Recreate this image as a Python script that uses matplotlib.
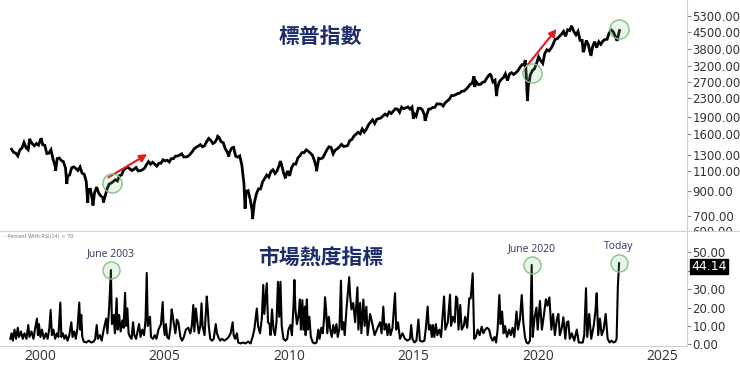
import matplotlib
matplotlib.use("Agg")
import matplotlib.pyplot as plt
import matplotlib.transforms as mtransforms
from matplotlib.lines import Line2D
from matplotlib.patches import Rectangle
import numpy as np

# S&P 500 month-end closes, Jun 1999 .. Nov 2023
spx_start = 1999.5
spx_monthly = [
    1373, 1329, 1320, 1283, 1363, 1389, 1469,
    1394, 1366, 1499, 1452, 1421, 1455, 1431, 1518, 1437, 1429, 1315, 1320,
    1366, 1240, 1160, 1249, 1256, 1224, 1211, 1134, 1041, 1060, 1139, 1148,
    1130, 1107, 1147, 1077, 1067, 990, 912, 916, 815, 886, 936, 880,
    856, 841, 848, 917, 964, 975, 990, 1008, 996, 1051, 1058, 1112,
    1131, 1145, 1126, 1107, 1121, 1141, 1102, 1104, 1115, 1130, 1174, 1212,
    1181, 1204, 1181, 1157, 1192, 1191, 1234, 1220, 1229, 1207, 1249, 1248,
    1280, 1281, 1295, 1311, 1270, 1270, 1277, 1304, 1336, 1378, 1401, 1418,
    1438, 1407, 1421, 1482, 1531, 1503, 1455, 1474, 1527, 1549, 1481, 1468,
    1379, 1331, 1323, 1386, 1400, 1280, 1267, 1283, 1166, 969, 896, 903,
    826, 735, 798, 873, 919, 919, 987, 1021, 1057, 1036, 1096, 1115,
    1074, 1104, 1169, 1187, 1089, 1031, 1102, 1049, 1141, 1183, 1181, 1258,
    1286, 1327, 1326, 1364, 1345, 1321, 1292, 1219, 1131, 1253, 1247, 1258,
    1312, 1366, 1408, 1398, 1310, 1362, 1379, 1407, 1441, 1412, 1416, 1426,
    1498, 1515, 1569, 1598, 1631, 1606, 1686, 1633, 1682, 1757, 1806, 1848,
    1783, 1859, 1872, 1884, 1924, 1960, 1931, 2003, 1972, 2018, 2068, 2059,
    1995, 2104, 2068, 2086, 2107, 2063, 2104, 1972, 1920, 2079, 2080, 2044,
    1940, 1932, 2060, 2065, 2097, 2099, 2174, 2171, 2168, 2126, 2199, 2239,
    2279, 2364, 2363, 2384, 2412, 2423, 2470, 2472, 2519, 2575, 2648, 2674,
    2824, 2714, 2641, 2648, 2705, 2718, 2816, 2902, 2914, 2712, 2760, 2507,
    2704, 2784, 2834, 2946, 2752, 2942, 2980, 2926, 2977, 3038, 3141, 3231,
    3226, 2954, 2585, 2912, 3044, 3100, 3271, 3500, 3363, 3270, 3622, 3756,
    3714, 3811, 3973, 4181, 4204, 4298, 4395, 4523, 4308, 4605, 4567, 4766,
    4516, 4374, 4530, 4132, 4132, 3785, 4130, 3955, 3586, 3872, 4080, 3840,
    4077, 3970, 4109, 4169, 4180, 4450, 4589, 4508, 4288, 4194, 4568,
]
# intra-month highs / lows visible in the chart
spx_extra_t = [2000.23, 2000.70, 2001.27, 2001.72, 2002.56, 2002.77, 2003.19,
               2007.78, 2008.22, 2008.88, 2009.18, 2010.30, 2010.50, 2011.75,
               2015.64, 2016.11, 2018.07, 2018.10, 2018.72, 2018.98, 2020.13,
               2020.22, 2022.00, 2022.46, 2022.78, 2023.82]
spx_extra_v = [1527, 1520, 1103, 966, 797, 777, 801,
               1565, 1276, 752, 677, 1217, 1022, 1099,
               1867, 1829, 2873, 2581, 2931, 2351, 3386,
               2237, 4797, 3667, 3577, 4117]

# percent of stocks with RSI(14) > 70
rsi_t = [
    1999.45, 1999.50, 1999.55, 1999.62, 1999.68, 1999.75, 1999.80, 1999.88, 1999.95,
    2000.02, 2000.10, 2000.17, 2000.22, 2000.30, 2000.38, 2000.45, 2000.52, 2000.56,
    2000.60, 2000.66, 2000.72, 2000.80, 2000.88, 2000.95,
    2001.02, 2001.07, 2001.12, 2001.18, 2001.25, 2001.32, 2001.38, 2001.46, 2001.50,
    2001.56, 2001.62, 2001.68, 2001.75, 2001.82, 2001.90, 2001.95,
    2002.02, 2002.08, 2002.15, 2002.22, 2002.26, 2002.30, 2002.34, 2002.40, 2002.50,
    2002.60, 2002.70, 2002.80, 2002.86, 2002.92, 2002.97,
    2003.05, 2003.12, 2003.20, 2003.30, 2003.35, 2003.42, 2003.49, 2003.53, 2003.60,
    2003.65, 2003.72, 2003.76, 2003.82, 2003.88, 2003.95,
    2004.00, 2004.06, 2004.10, 2004.15, 2004.20, 2004.26, 2004.32, 2004.38, 2004.43,
    2004.50, 2004.56, 2004.62, 2004.68, 2004.75, 2004.82, 2004.88, 2004.93, 2004.97,
    2005.02, 2005.06, 2005.10, 2005.18, 2005.25, 2005.32, 2005.40, 2005.50, 2005.57,
    2005.60, 2005.65, 2005.70, 2005.75, 2005.82, 2005.88, 2005.93, 2005.98,
    2006.02, 2006.08, 2006.14, 2006.20, 2006.28, 2006.35, 2006.42, 2006.50, 2006.60,
    2006.68, 2006.74, 2006.80, 2006.84, 2006.90, 2006.96,
    2007.02, 2007.08, 2007.13, 2007.17, 2007.25, 2007.34, 2007.38, 2007.42, 2007.48,
    2007.55, 2007.62, 2007.70, 2007.75, 2007.80, 2007.88, 2007.95,
    2008.05, 2008.15, 2008.22, 2008.30, 2008.38, 2008.42, 2008.48, 2008.55, 2008.60,
    2008.70, 2008.80, 2008.90,
    2009.00, 2009.10, 2009.18, 2009.25, 2009.35, 2009.40, 2009.48, 2009.55, 2009.61,
    2009.65, 2009.75, 2009.80, 2009.86, 2009.90, 2009.96,
    2010.02, 2010.08, 2010.14, 2010.20, 2010.25, 2010.30, 2010.35, 2010.42, 2010.50,
    2010.57, 2010.62, 2010.70, 2010.76, 2010.82, 2010.86, 2010.90, 2010.96,
    2011.02, 2011.08, 2011.12, 2011.18, 2011.22, 2011.28, 2011.31, 2011.36, 2011.40,
    2011.46, 2011.52, 2011.60, 2011.68, 2011.75, 2011.82, 2011.87, 2011.94,
    2012.00, 2012.05, 2012.09, 2012.13, 2012.18, 2012.24, 2012.30, 2012.36, 2012.42,
    2012.48, 2012.55, 2012.60, 2012.67, 2012.73, 2012.77, 2012.83, 2012.88, 2012.95,
    2013.06, 2013.10, 2013.15, 2013.22, 2013.30, 2013.39, 2013.43, 2013.50, 2013.55,
    2013.63, 2013.68, 2013.75, 2013.80, 2013.90,
    2014.00, 2014.08, 2014.20, 2014.30, 2014.36, 2014.43, 2014.48, 2014.55, 2014.60,
    2014.66, 2014.72, 2014.80, 2014.90, 2014.95,
    2015.02, 2015.10, 2015.20, 2015.30, 2015.40, 2015.50, 2015.55, 2015.60, 2015.68,
    2015.76, 2015.84, 2015.90,
    2016.00, 2016.08, 2016.14, 2016.21, 2016.26, 2016.32, 2016.38, 2016.42, 2016.48,
    2016.54, 2016.60, 2016.68, 2016.75, 2016.87, 2016.92,
    2017.02, 2017.11, 2017.15, 2017.22, 2017.30, 2017.35, 2017.40, 2017.45, 2017.52,
    2017.58, 2017.66, 2017.72, 2017.80, 2017.88, 2017.94,
    2018.02, 2018.08, 2018.15, 2018.22, 2018.30, 2018.38, 2018.45, 2018.52, 2018.60,
    2018.68, 2018.75, 2018.82, 2018.90, 2018.96,
    2019.02, 2019.09, 2019.14, 2019.20, 2019.26, 2019.32, 2019.40, 2019.48, 2019.55,
    2019.62, 2019.69, 2019.78, 2019.84, 2019.92, 2019.99,
    2020.05, 2020.12, 2020.18, 2020.25, 2020.32, 2020.39, 2020.43, 2020.50, 2020.58,
    2020.63, 2020.72, 2020.80, 2020.88, 2020.96,
    2021.02, 2021.10, 2021.18, 2021.25, 2021.32, 2021.40, 2021.46, 2021.52, 2021.60,
    2021.66, 2021.74, 2021.80, 2021.86, 2021.92,
    2022.00, 2022.10, 2022.20, 2022.28, 2022.36, 2022.44, 2022.50, 2022.57, 2022.62,
    2022.70, 2022.78, 2022.88, 2022.95,
    2023.00, 2023.06, 2023.13, 2023.20, 2023.28, 2023.36, 2023.44, 2023.52, 2023.60,
    2023.68, 2023.75, 2023.80, 2023.85, 2023.90,
]
rsi_v = [
    3, 6, 2, 8, 3, 9, 4, 7, 3,
    6, 3, 10.5, 4, 7, 3, 9, 14, 5,
    11, 4, 8, 3, 6, 3,
    9, 18.7, 5, 8, 3, 6, 4, 22.7, 4,
    6, 3, 5, 2, 5, 12, 4,
    7, 3, 9, 22.7, 8, 16, 4, 1.5, 1,
    2, 1, 1.5, 3, 10.5, 3,
    5, 2, 8, 14, 6, 20, 40.4, 11, 16,
    6, 25, 8, 16, 7, 13,
    9, 28, 10, 19.5, 6, 4, 3, 12, 5,
    3, 7, 11, 4, 8, 5, 13, 38.8, 10,
    13, 15, 4, 3, 5, 3, 8, 11, 23,
    12, 5, 11, 4, 3, 9, 19, 15,
    11, 6, 13.5, 12, 4, 2, 4, 8, 9,
    6, 10, 21.4, 7, 19.5, 12,
    6, 10, 22.3, 10, 5, 26, 19, 10, 3,
    2, 3, 11, 6, 4, 2, 3,
    2, 3, 4, 6, 12, 5, 3, 6, 1,
    0.5, 1, 0.5,
    1.5, 0.5, 4, 8, 19.5, 10, 6, 14, 32.3,
    16.5, 33.2, 12, 11, 5, 19,
    8, 5, 12, 34, 15, 34, 10, 3, 2,
    3, 8, 10.5, 5, 20, 35, 19, 11,
    15, 24.4, 8, 24, 8, 20.5, 5, 24.4, 8,
    15, 4, 1, 0.5, 1, 8, 3, 9,
    6, 14, 25.6, 19, 6, 15, 8, 4, 10.5,
    6, 11, 4, 9, 34.6, 8, 12, 5, 19,
    36.5, 26, 19, 22.5, 12, 31, 8, 22.5, 6,
    24.4, 10, 20.5, 5, 16.5,
    10.5, 5, 9, 12, 6, 20.5, 8, 11, 5,
    11, 5, 9, 27.8, 8,
    12, 3, 6, 3, 2, 3, 10.5, 3, 1,
    2, 13.5, 2,
    1.5, 2, 9, 20.5, 8, 10.5, 4, 10.5, 4,
    11, 5, 8, 4, 26, 8,
    12, 27, 10, 15, 12, 26, 25, 8, 21.4,
    8, 10, 15, 9, 25, 25,
    38.6, 3, 4, 8, 5, 9.6, 6, 8, 9,
    8, 4, 2, 4, 1,
    8, 26.8, 11, 17.8, 6, 10, 4, 8, 5,
    9, 4, 17.8, 8, 14, 26.8,
    12.5, 4, 1, 0.5, 2, 43.2, 4, 14, 20,
    8, 23.6, 8, 16, 24.5,
    21, 25.5, 8, 16.5, 5, 13.5, 16.5, 5, 9,
    14.7, 3, 12, 12.5, 3,
    6, 2, 8, 1, 1, 1, 5, 30.5, 4,
    16.5, 3, 10, 18,
    27.8, 5, 14, 5, 8, 16.5, 3, 1, 2,
    1, 1.5, 3, 31.6, 44.1,
]
rsi_last = 44.14

top_ticks = [600, 700, 900, 1100, 1300, 1600, 1900, 2300, 2700, 3200, 3800, 4500, 5300]
bottom_ticks = [0, 10, 20, 30, 40, 50]
years = [2000, 2005, 2010, 2015, 2020, 2025]

# highlighted spots
top_circles_t = [2003.52, 2020.39, 2023.91]
top_circles_v = [976, 2967, 4640]
arrows = [((2003.39, 1033), (2004.95, 1305)), ((2020.19, 3191), (2021.39, 4640))]
bot_circles_t = [2003.49, 2020.39, 2023.90]
bot_circles_v = [40.4, 43.2, 44.1]
bot_labels = ["June 2003", "June 2020", "Today"]

# merge monthly closes with intra-month extremes
spx_t = spx_start + np.arange(len(spx_monthly)) / 12.0
all_t = np.concatenate([spx_t, spx_extra_t])
all_v = np.concatenate([spx_monthly, spx_extra_v])
order = np.argsort(all_t)
all_t, all_v = all_t[order], all_v[order]

W, H = 740, 365
fig = plt.figure(figsize=(W / 100, H / 100), dpi=100)
ax1 = fig.add_axes([0, 1 - 231 / H, 687 / W, 231 / H])
ax2 = fig.add_axes([0, 1 - 346 / H, 687 / W, 115 / H])

xlim = (1999.036, 2026.627)
navy = "#1b2c6b"
grey = "#cfcfcf"

# top panel
ax1.plot(all_t, all_v, color="black", lw=2.0, solid_joinstyle="miter")
ax1.set_yscale("log")
ax1.set_ylim(615, 6220)
ax1.set_xlim(*xlim)
ax1.set_xticks([])
ax1.yaxis.tick_right()
ax1.set_yticks(top_ticks)
ax1.set_yticklabels(["%.2f" % v for v in top_ticks])
ax1.yaxis.set_minor_locator(matplotlib.ticker.NullLocator())
ax1.tick_params(axis="y", length=3, width=0.8, color="#888888", pad=1,
                labelsize=8.5, labelcolor="#333333")
for s in ["top", "left", "bottom"]:
    ax1.spines[s].set_visible(False)
ax1.spines["right"].set_color(grey)

ax1.text(2011.9, 4300, "標普指數", ha="center", va="center", fontsize=15,
         fontweight="bold", color=navy, family=["Noto Sans CJK TC", "DejaVu Sans"])

for (x0, y0), (x1, y1) in arrows:
    ax1.annotate("", xy=(x1, y1), xytext=(x0, y0),
                 arrowprops=dict(arrowstyle="-|>", color="#e01b1b", lw=1.5,
                                 mutation_scale=11, shrinkA=0, shrinkB=0))
ax1.scatter(top_circles_t, top_circles_v, s=190, facecolor=(0.55, 0.8, 0.55, 0.18),
            edgecolor="#86c286", lw=1.0, zorder=5)

# bottom panel
ax2.plot(rsi_t, rsi_v, color="black", lw=1.5)
ax2.set_xlim(*xlim)
ax2.set_ylim(-0.9, 61.6)
ax2.yaxis.tick_right()
ax2.set_yticks(bottom_ticks)
# the 40.00 label sits under the last-value box
ax2.set_yticklabels(["" if v == 40 else "%.2f" % v for v in bottom_ticks])
ax2.tick_params(axis="y", length=3, width=0.8, color="#888888", pad=1,
                labelsize=8.5, labelcolor="#333333")
ax2.set_xticks(years)
ax2.set_xticklabels([str(y) for y in years], ha="left")
ax2.tick_params(axis="x", length=0, pad=2, labelsize=10, labelcolor="#333333")
for lab in ax2.get_xticklabels():
    lab.set_family("Open Sans")
for s in ["top", "left"]:
    ax2.spines[s].set_visible(False)
ax2.spines["right"].set_color(grey)
ax2.spines["bottom"].set_color(grey)

ax2.text(0.006, 0.97, "- Percent With RSI(14) > 70", transform=ax2.transAxes,
         fontsize=3.6, color="#777777", va="top")
ax2.text(2011.9, 47.5, "市場熱度指標", ha="center", va="center", fontsize=15,
         fontweight="bold", color=navy, family=["Noto Sans CJK TC", "DejaVu Sans"])

ax2.scatter(bot_circles_t, bot_circles_v, s=150, facecolor=(0.55, 0.8, 0.55, 0.18),
            edgecolor="#86c286", lw=1.0, zorder=5)
for t, v, lab in zip(bot_circles_t, bot_circles_v, bot_labels):
    ax2.annotate(lab, xy=(t, v), xytext=(0, 8), textcoords="offset points",
                 ha="center", va="bottom", fontsize=7.5, color="#2b3560",
                 family="Open Sans")

trans = mtransforms.blended_transform_factory(ax2.transAxes, ax2.transData)
ax2.text(1.006, rsi_last - 2.0, "%.2f" % rsi_last, transform=trans, ha="left",
         va="center", fontsize=9, color="white", clip_on=False, zorder=10,
         bbox=dict(boxstyle="square,pad=0.08", facecolor="black", edgecolor="black"))

# separator line between the panels, running under the price scale too
fig.add_artist(Line2D([0, 1], [1 - 231 / H, 1 - 231 / H], color=grey, lw=0.8))
# the 600 label is cut by the separator as in the original
fig.add_artist(Rectangle((688 / W, 1 - 240 / H), 52 / W, 8.5 / H, facecolor="white",
                         edgecolor="none", transform=fig.transFigure, zorder=3))

fig.savefig("out.png", dpi=100)
